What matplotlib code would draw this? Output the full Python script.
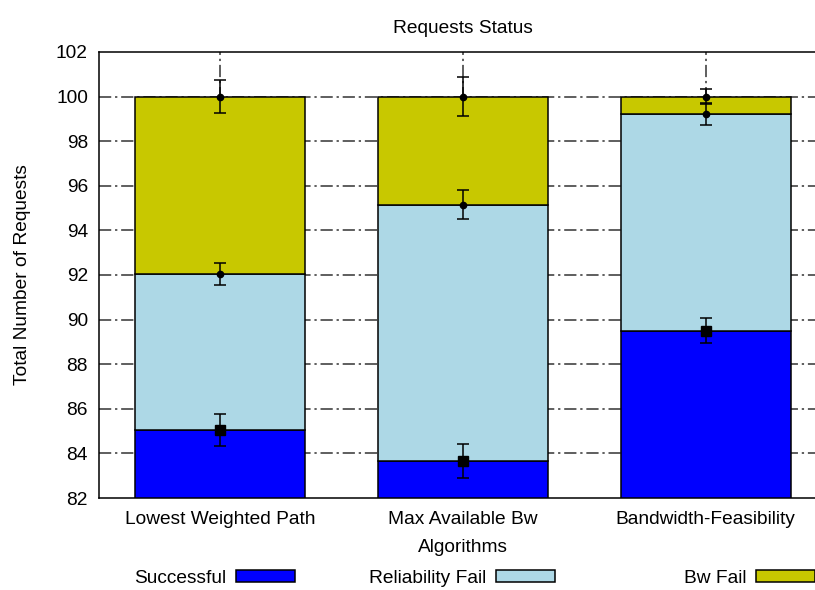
import matplotlib
matplotlib.use("Agg")
import matplotlib.pyplot as plt
import numpy as np

plt.rcParams['font.family'] = ['Liberation Sans', 'DejaVu Sans']

algorithms = ["Lowest Weighted Path", "Max Available Bw", "Bandwidth-Feasibility"]
series_names = ["Successful", "Reliability Fail", "Bw Fail"]
successful = [85.05, 83.65, 89.5]
reliability_fail = [7.0, 11.5, 9.7]
bw_fail = [7.95, 4.85, 0.8]
err_successful = [0.72, 0.75, 0.55]
err_reliability = [0.49, 0.64, 0.49]
err_bw = [0.73, 0.87, 0.34]
colors = ["#0000ff", "#add8e6", "#c8c800"]

FS = 13.8

fig = plt.figure(figsize=(8.15, 5.9), dpi=100)
ax = fig.add_axes([0.1215, 0.1559, 0.8932, 0.756])

x = np.arange(len(algorithms))
width = 0.7
grid_style = dict(color="#333333", lw=1.1, linestyle=(0, (8, 2.5, 1.5, 2.5)), zorder=0)

ymin, ymax = 82, 102
yticks = np.arange(82, 103, 2)
for yv in yticks[1:-1]:
    ax.axhline(yv, **grid_style)
for xv in x:
    ax.axvline(xv, **grid_style)

layers = [successful, reliability_fail, bw_fail]
errors = [err_successful, err_reliability, err_bw]
bottom = np.zeros(len(x))
for vals, errs, col, name in zip(layers, errors, colors, series_names):
    vals = np.array(vals)
    ax.bar(x, vals, width, bottom=bottom, color=col, edgecolor="black",
           linewidth=1.1, zorder=2, label=name)
    tops = bottom + vals
    marker = "s" if name == "Successful" else "o"
    msize = 6.5 if name == "Successful" else 4.5
    ax.errorbar(x, tops, yerr=errs, fmt=marker, color="black", ms=msize,
                elinewidth=1.1, capsize=4.3, capthick=1.1, zorder=4)
    bottom = tops

ax.set_xlim(-0.5, 2.5)
ax.set_ylim(ymin, ymax)
ax.set_yticks(yticks)
ax.set_xticks(x)
ax.set_xticklabels(algorithms)
ax.tick_params(axis="x", length=0, pad=9, labelsize=FS)
ax.tick_params(axis="y", direction="in", length=0, pad=8, labelsize=FS)
for sp in ax.spines.values():
    sp.set_linewidth(1.1)

ax.set_title("Requests Status", fontsize=FS, pad=14)
ax.set_xlabel("Algorithms", fontsize=FS, labelpad=8)
ax.set_ylabel("Total Number of Requests", fontsize=FS, labelpad=18)

# one legend entry per series, laid out across the bottom, text before swatch
handles, labels = ax.get_legend_handles_labels()
anchors = [295 / 815, 555 / 815, 815 / 815]
for h, lab, ax_x in zip(handles, labels, anchors):
    leg = fig.legend([h], [lab], loc="center right", bbox_to_anchor=(ax_x, 0.02),
                     frameon=False, markerfirst=False, fontsize=FS,
                     handlelength=3.1, handleheight=0.55, handletextpad=0.5,
                     borderaxespad=0, borderpad=0)

fig.savefig("out.png", dpi=100)
